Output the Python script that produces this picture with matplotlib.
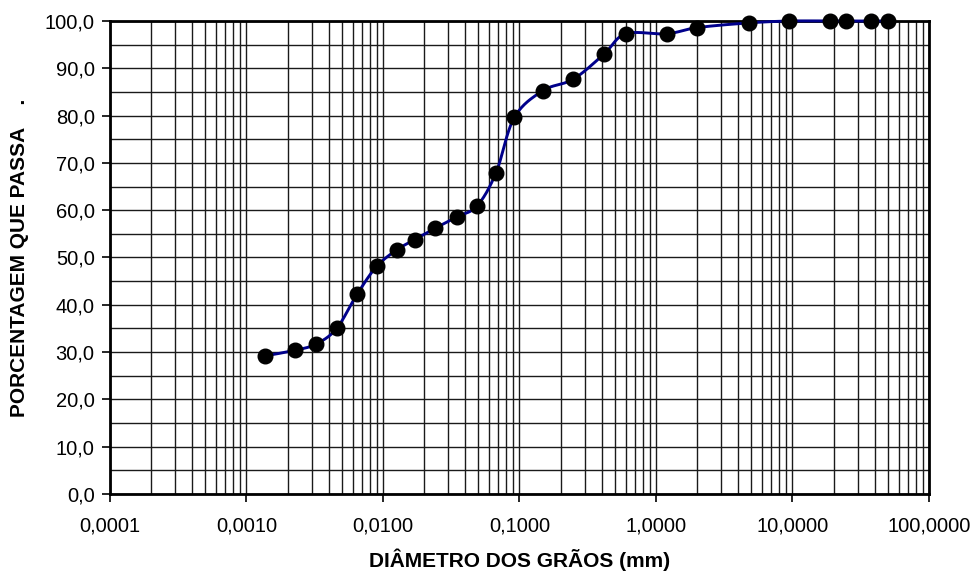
import numpy as np
import matplotlib
matplotlib.use("Agg")
import matplotlib.pyplot as plt
from matplotlib.ticker import FixedLocator, FuncFormatter, MultipleLocator, NullFormatter

# Grain-size distribution (sedimentation + sieving)
diametro_mm = [0.00137, 0.00228, 0.00324, 0.00458, 0.00648, 0.00898, 0.0126,
               0.0171, 0.0242, 0.0348, 0.0489, 0.0673, 0.0916, 0.149, 0.248,
               0.416, 0.600, 1.20, 2.00, 4.77, 9.48, 18.8, 24.7, 37.6, 49.8]
passante_pct = [29.2, 30.4, 31.7, 35.0, 42.3, 48.1, 51.6, 53.8, 56.2, 58.6,
                60.9, 67.9, 79.6, 85.3, 87.7, 93.0, 97.3, 97.3, 98.6, 99.6,
                100.0, 100.0, 100.0, 100.0, 100.0]

x_ticks = [0.0001, 0.001, 0.01, 0.1, 1.0, 10.0, 100.0]
y_ticks = [0, 10, 20, 30, 40, 50, 60, 70, 80, 90, 100]

plt.rcParams['font.family'] = ['Liberation Sans', 'DejaVu Sans']


def smooth_curve(xs, ys, n=30):
    """Catmull-Rom style Bezier smoothing in (log10 x, y) space."""
    lx = np.log10(np.asarray(xs, float))
    yy = np.asarray(ys, float)
    pts = np.column_stack([lx, yy])
    ext = np.vstack([pts[0], pts, pts[-1]])
    out = []
    t = np.linspace(0, 1, n)[:, None]
    for i in range(1, len(ext) - 2):
        p0, p1, p2, p3 = ext[i - 1], ext[i], ext[i + 1], ext[i + 2]
        c1 = p1 + (p2 - p0) / 6.0
        c2 = p2 - (p3 - p1) / 6.0
        seg = ((1 - t) ** 3) * p1 + 3 * ((1 - t) ** 2) * t * c1 \
            + 3 * (1 - t) * t ** 2 * c2 + t ** 3 * p2
        out.append(seg if i == 1 else seg[1:])
    arr = np.vstack(out)
    return 10 ** arr[:, 0], arr[:, 1]


fig = plt.figure(figsize=(9.75, 5.71), dpi=100)
ax = fig.add_axes([0.1128, 0.1349, 0.8400, 0.8283])

ax.set_xscale('log')
ax.set_xlim(0.0001, 100)
ax.set_ylim(0, 100)

# grid: decades + 2..9 subdivisions, and every 5 % vertically
ax.xaxis.set_major_locator(FixedLocator(x_ticks))
ax.xaxis.set_minor_locator(FixedLocator(
    [m * 10.0 ** e for e in range(-4, 2) for m in range(2, 10)]))
ax.xaxis.set_minor_formatter(NullFormatter())
ax.yaxis.set_major_locator(FixedLocator(y_ticks))
ax.yaxis.set_minor_locator(MultipleLocator(5))

ax.grid(True, which='both', axis='both', color='#1a1a1a', lw=1.0, zorder=0)
ax.set_axisbelow(True)

ax.xaxis.set_major_formatter(FuncFormatter(lambda v, p: f"{v:.4f}".replace('.', ',')))
ax.yaxis.set_major_formatter(FuncFormatter(lambda v, p: f"{v:.1f}".replace('.', ',')))

ax.tick_params(axis='both', which='major', direction='out', length=6, width=1.2,
               labelsize=14.5, colors='black')
ax.tick_params(axis='x', which='major', pad=10)
ax.tick_params(axis='y', which='major', pad=5)
ax.tick_params(axis='both', which='minor', length=0)

for s in ax.spines.values():
    s.set_linewidth(2.0)
    s.set_color('black')

sx, sy = smooth_curve(diametro_mm, passante_pct)
ax.plot(sx, sy, color='#00008B', lw=2.1, zorder=3, clip_on=False)
ax.plot(diametro_mm, passante_pct, 'o', color='black', markersize=10.5,
        zorder=4, clip_on=False)

fig.text(0.5328, 0.020, 'DIÂMETRO DOS GRÃOS (mm)', fontsize=15,
         fontweight='bold', ha='center', va='center')
fig.text(0.020, 0.549, 'PORCENTAGEM QUE PASSA    .', rotation=90,
         fontsize=15, fontweight='bold', ha='center', va='center')

fig.savefig('out.png', dpi=100)
